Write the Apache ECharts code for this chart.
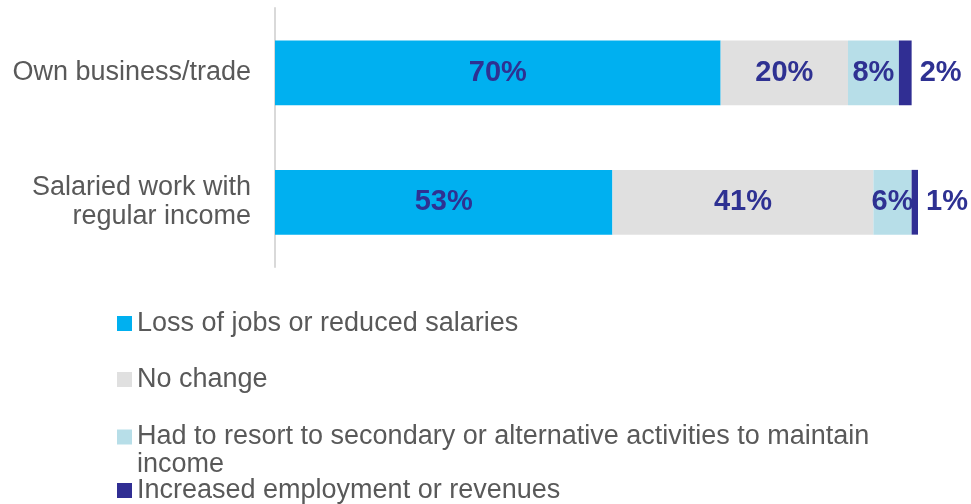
<!DOCTYPE html>
<html>
<head>
<meta charset="utf-8">
<script src="https://cdn.jsdelivr.net/npm/echarts@6/dist/echarts.min.js"></script>
<style>
  html, body { margin: 0; padding: 0; background: #ffffff; }
  #chart { width: 971px; height: 504px; }
</style>
</head>
<body>
<div id="chart"></div>
<script>
// Employment situation categories (top to bottom)
const categories = ['Own business/trade', 'Salaried work with regular income'];

// Response groups, in stacking order
const seriesNames = [
  'Loss of jobs or reduced salaries',
  'No change',
  'Had to resort to secondary or alternative activities to maintain income',
  'Increased employment or revenues'
];

// Percent of respondents per category
const lossOfJobs = [70, 53];
const noChange = [20, 41];
const secondaryActivities = [8, 6];
const increased = [2, 1];

const values = [lossOfJobs, noChange, secondaryActivities, increased];
const colors = ['#00B0F0', '#E0E0E0', '#B7DEE8', '#302E93'];

const FONT = "'Liberation Sans', Arial, sans-serif";
const LABEL_COLOR = '#2E3192';
const TEXT_GRAY = '#595959';

const series = seriesNames.map((name, i) => ({
  name: name,
  type: 'bar',
  stack: 'total',
  barWidth: '50%',
  data: values[i],
  itemStyle: { color: colors[i] },
  label: {
    show: true,
    position: i === seriesNames.length - 1 ? 'right' : 'inside',
    distance: 8,
    formatter: p => p.value + '%',
    color: LABEL_COLOR,
    fontFamily: FONT,
    fontWeight: 'bold',
    fontSize: 29
  },
  emphasis: { disabled: true }
}));

// One legend block per entry so each row sits at its own height.
// The long entry wraps before "income"; a blank leading line keeps the
// swatch level with its first line of text.
const legendTops = [310, 366, 395, 477];
const legends = seriesNames.map((name, i) => {
  const wrapped = i === 2;
  return {
    data: [name],
    orient: 'vertical',
    left: 117,
    top: legendTops[i],
    padding: 0,
    itemWidth: 15,
    itemHeight: 15,
    itemGap: 0,
    icon: 'rect',
    selectedMode: false,
    formatter: n => wrapped ? ' \n' + n.replace(/ income$/, '\nincome') : n,
    textStyle: {
      color: TEXT_GRAY,
      fontFamily: FONT,
      fontSize: 27,
      lineHeight: wrapped ? 28 : 26
    }
  };
});

const chart = echarts.init(document.getElementById('chart'), null, { renderer: 'canvas' });
chart.setOption({
  animation: false,
  backgroundColor: '#ffffff',
  legend: legends,
  grid: { left: 275, right: 53, top: 8, bottom: 237, containLabel: false },
  xAxis: {
    type: 'value',
    min: 0,
    max: 101,
    show: false
  },
  yAxis: {
    type: 'category',
    data: categories,
    inverse: true,
    axisLine: { show: true, lineStyle: { color: '#D9D9D9', width: 2 } },
    axisTick: { show: false },
    splitLine: { show: false },
    axisLabel: {
      margin: 24,
      color: TEXT_GRAY,
      fontFamily: FONT,
      fontSize: 27,
      lineHeight: 29,
      align: 'right',
      formatter: v => v.replace(' regular', '\nregular')
    }
  },
  series: series
});
</script>
</body>
</html>
